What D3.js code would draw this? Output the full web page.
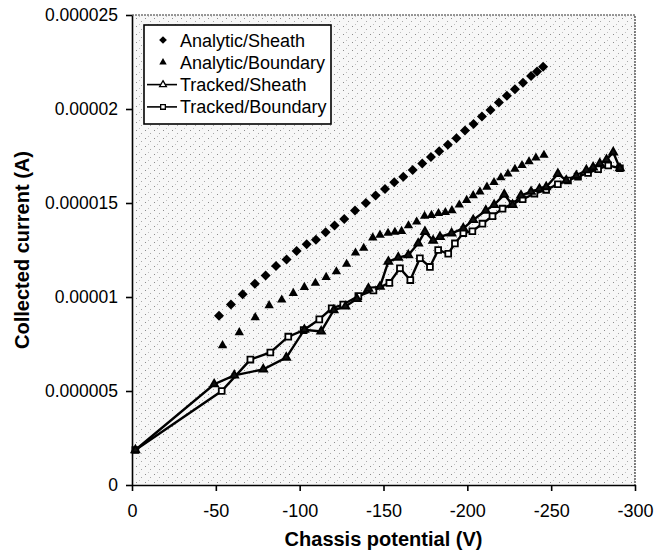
<!DOCTYPE html>
<html>
<head>
<meta charset="utf-8">
<script src="https://cdn.jsdelivr.net/npm/d3@7"></script>
<style>
  body { margin: 0; background: #fff; }
  svg { display: block; font-family: "Liberation Sans", Arial, sans-serif; }
</style>
</head>
<body>
<div id="chart"></div>
<script>
/********** Data (current in micro-amps, potential in volts) **********/
var sheathV = [-51.9, -59.0, -66.0, -73.3, -79.7, -85.9, -92.2, -98.2, -104.2, -109.7, -115.5, -120.8,
  -126.6, -133.0, -139.5, -145.3, -150.9, -156.4, -161.8, -167.4, -173.1, -178.3, -183.2, -188.4,
  -193.5, -198.6, -203.7, -208.7, -213.8, -218.8, -223.6, -228.4, -233.2, -238.0, -241.6, -245.2]
var sheathI = [9.0, 9.6, 10.15, 10.7, 11.15, 11.65, 12.0, 12.45, 12.8, 13.05, 13.45, 13.8,
  14.15, 14.6, 15.0, 15.4, 15.75, 16.1, 16.4, 16.75, 17.1, 17.45, 17.75, 18.1,
  18.45, 18.85, 19.2, 19.6, 19.95, 20.35, 20.7, 21.05, 21.4, 21.75, 22.0, 22.25]

var boundV = [-54.0, -64.0, -73.5, -81.8, -89.3, -96.2, -102.8, -109.4, -115.8, -121.9, -128.0, -133.3,
  -138.2, -143.6, -147.9, -152.7, -156.8, -160.8, -164.9, -169.8, -174.5, -178.6, -182.8, -186.9,
  -190.8, -195.2, -199.6, -203.5, -207.5, -211.7, -215.9, -220.0, -224.2, -228.4, -232.6, -236.8, -240.9, -245.7]
var boundI = [7.42, 8.11, 8.91, 9.55, 9.85, 10.2, 10.52, 10.74, 11.05, 11.35, 11.75, 12.35,
  12.6, 13.15, 13.3, 13.4, 13.45, 13.5, 13.8, 14.0, 14.3, 14.35, 14.45, 14.5,
  14.6, 14.9, 15.15, 15.4, 15.6, 15.85, 16.1, 16.35, 16.55, 16.8, 17.0, 17.2, 17.4, 17.55]

var trackSheathV = [-2, -49, -61, -78.3, -92, -102.8, -112.8, -120.3, -127.3, -134.2, -141, -147.9,
  -152.9, -158.8, -164.8, -170.7, -174.7, -179.6, -183.7, -190.6, -197.6, -203.5, -211, -216,
  -222, -227, -232, -238, -243, -247, -254, -259, -265, -271, -275, -279, -283, -287, -291]
var trackSheathI = [1.86, 5.36, 5.83, 6.15, 6.78, 8.26, 8.17, 9.3, 9.5, 9.9, 10.45, 10.55,
  11.88, 12.1, 12.23, 12.85, 13.47, 13.0, 13.2, 13.39, 13.65, 14.1, 14.6, 14.9,
  15.45, 14.9, 15.4, 15.6, 15.75, 15.85, 16.55, 16.2, 16.45, 16.75, 16.9, 17.1, 17.3, 17.7, 16.85]

var trackBoundV = [-2, -53.5, -70.6, -82.5, -93.2, -102.4, -111.7, -119.1, -126, -135, -144, -153.5,
  -159.8, -166, -171.7, -177.7, -182.6, -188.6, -192.6, -197.6, -203, -209, -215, -221,
  -227, -233, -240, -247, -254, -260, -266, -272, -278, -284, -291]
var trackBoundI = [1.86, 5.0, 6.67, 7.05, 7.89, 8.24, 8.81, 9.4, 9.6, 10.05, 10.35, 10.75,
  11.53, 10.9, 12.06, 11.6, 12.5, 12.3, 12.85, 13.4, 13.5, 13.9, 14.3, 14.7,
  14.95, 15.2, 15.5, 15.7, 16.0, 16.2, 16.4, 16.6, 16.8, 17.0, 16.85]

var xTicks = [0, -50, -100, -150, -200, -250, -300]
var yTicks = [0, 0.000005, 0.00001, 0.000015, 0.00002, 0.000025]
var yTickLabels = ["0", "0.000005", "0.00001", "0.000015", "0.00002", "0.000025"]
var seriesNames = ["Analytic/Sheath", "Analytic/Boundary", "Tracked/Sheath", "Tracked/Boundary"]

function pairs(vs, is) {
  return vs.map(function(v, i) { return {v: v, c: is[i] * 1e-6} })
}

/********** Chart **********/
var width = 654, height = 557
var margin = {top: 15, right: 19, bottom: 72, left: 132}

var svg = d3.select("#chart").append("svg")
    .attr("width", width)
    .attr("height", height)

var x = d3.scaleLinear().domain([0, -300]).range([margin.left, width - margin.right])
var y = d3.scaleLinear().domain([0, 0.000025]).range([height - margin.bottom, margin.top])

// speckled plot background, like the scanned original
var defs = svg.append("defs")
var pat = defs.append("pattern")
    .attr("id", "speckle")
    .attr("patternUnits", "userSpaceOnUse")
    .attr("width", 9).attr("height", 8)
pat.append("rect").attr("width", 9).attr("height", 8).attr("fill", "#f7f7f7")
pat.append("rect").attr("x", 1).attr("y", 2).attr("width", 1).attr("height", 1).attr("fill", "#8c8c8c")
pat.append("rect").attr("x", 6).attr("y", 5).attr("width", 1).attr("height", 1).attr("fill", "#a8a8a8")
pat.append("rect").attr("x", 4).attr("y", 0).attr("width", 1).attr("height", 1).attr("fill", "#c0c0c0")

svg.append("rect")
    .attr("x", x(0)).attr("y", y(0.000025))
    .attr("width", x(-300) - x(0)).attr("height", y(0) - y(0.000025))
    .attr("fill", "url(#speckle)")

// dotted top and right frame
svg.append("path")
    .attr("d", "M" + x(0) + "," + y(0.000025) + "H" + x(-300) + "V" + y(0))
    .attr("fill", "none")
    .attr("stroke", "#333")
    .attr("stroke-width", 1.2)
    .attr("stroke-dasharray", "2,1")

// Add X Axis
var xAxis = svg.append("g")
    .attr("transform", "translate(0," + y(0) + ")")
    .call(d3.axisBottom(x).tickValues(xTicks).tickSize(6).tickPadding(13).tickSizeOuter(0)
      .tickFormat(function(d) { return d === 0 ? "0" : String(d) }))
xAxis.selectAll("text").style("font-size", "18px").attr("fill", "#000")
xAxis.selectAll("line, path").attr("stroke", "#000").attr("stroke-width", 1.6)

// Add Y Axis
var yAxis = svg.append("g")
    .attr("transform", "translate(" + x(0) + ",0)")
    .call(d3.axisLeft(y).tickValues(yTicks).tickSize(6).tickPadding(8).tickSizeOuter(0)
      .tickFormat(function(d, i) { return yTickLabels[i] }))
yAxis.selectAll("text").style("font-size", "17.5px").attr("fill", "#000")
yAxis.selectAll("line, path").attr("stroke", "#000").attr("stroke-width", 1.6)

// axis titles
svg.append("text")
    .attr("x", (x(0) + x(-300)) / 2)
    .attr("y", 546)
    .attr("text-anchor", "middle")
    .style("font-size", "20px")
    .style("font-weight", "bold")
    .text("Chassis potential (V)")

svg.append("text")
    .attr("transform", "translate(29," + ((y(0) + y(0.000025)) / 2) + ") rotate(-90)")
    .attr("text-anchor", "middle")
    .style("font-size", "20px")
    .style("font-weight", "bold")
    .text("Collected current (A)")

// markers
var diamond = d3.symbol().type(d3.symbolSquare).size(50)
var bigTri = d3.symbol().type(d3.symbolTriangle).size(38)
var smallTri = d3.symbol().type(d3.symbolTriangle).size(26)
var square = d3.symbol().type(d3.symbolSquare).size(34)

var line = d3.line()
    .x(function(d) { return x(d.v) })
    .y(function(d) { return y(d.c) })

var tb = pairs(trackBoundV, trackBoundI)
var ts = pairs(trackSheathV, trackSheathI)

svg.append("path").datum(tb)
    .attr("fill", "none").attr("stroke", "#000").attr("stroke-width", 2.4).attr("d", line)
svg.append("path").datum(ts)
    .attr("fill", "none").attr("stroke", "#000").attr("stroke-width", 2.4).attr("d", line)

svg.append("g").selectAll("path").data(tb).join("path")
    .attr("transform", function(d) { return "translate(" + x(d.v) + "," + y(d.c) + ")" })
    .attr("d", square)
    .attr("fill", "#fff").attr("stroke", "#000").attr("stroke-width", 1.8)

svg.append("g").selectAll("path").data(ts).join("path")
    .attr("transform", function(d) { return "translate(" + x(d.v) + "," + y(d.c) + ")" })
    .attr("d", smallTri)
    .attr("fill", "#111").attr("stroke", "#000").attr("stroke-width", 1.8)

svg.append("g").selectAll("path").data(pairs(sheathV, sheathI)).join("path")
    .attr("transform", function(d) { return "translate(" + x(d.v) + "," + y(d.c) + ") rotate(45)" })
    .attr("d", diamond)
    .attr("fill", "#000")

svg.append("g").selectAll("path").data(pairs(boundV, boundI)).join("path")
    .attr("transform", function(d) { return "translate(" + x(d.v) + "," + y(d.c) + ")" })
    .attr("d", bigTri)
    .attr("fill", "#000")

// legend
var legend = svg.append("g").attr("transform", "translate(144,25)")
legend.append("rect")
    .attr("width", 187).attr("height", 99)
    .attr("fill", "#fff").attr("stroke", "#000").attr("stroke-width", 1.6)

var rows = legend.selectAll("g.row").data(seriesNames).join("g")
    .attr("class", "row")
    .attr("transform", function(d, i) { return "translate(0," + (15 + i * 22.3) + ")" })

rows.append("text")
    .attr("x", 36).attr("y", 6.5)
    .style("font-size", "18px")
    .text(function(d) { return d })

rows.filter(function(d, i) { return i >= 2 }).append("line")
    .attr("x1", 3).attr("x2", 33).attr("stroke", "#000").attr("stroke-width", 1.6)

rows.append("path")
    .attr("transform", function(d, i) { return "translate(19,0)" + (i === 0 ? " rotate(45)" : "") })
    .attr("d", function(d, i) {
      return [d3.symbol().type(d3.symbolSquare).size(30)(),
              d3.symbol().type(d3.symbolTriangle).size(24)(),
              d3.symbol().type(d3.symbolTriangle).size(20)(),
              d3.symbol().type(d3.symbolSquare).size(22)()][i]
    })
    .attr("fill", function(d, i) { return i < 2 ? "#000" : "#fff" })
    .attr("stroke", "#000")
    .attr("stroke-width", function(d, i) { return i < 2 ? 0 : 1.3 })
</script>
</body>
</html>
